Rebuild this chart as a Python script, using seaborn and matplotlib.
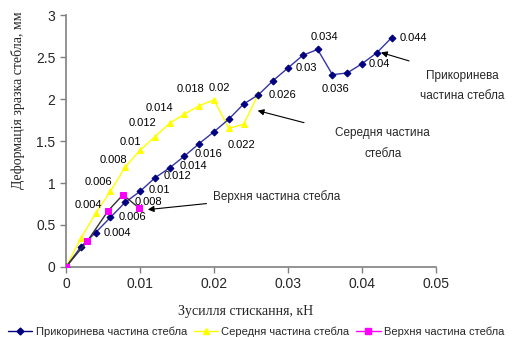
import pandas as pd
import matplotlib.pyplot as plt
import seaborn as sns
from matplotlib.lines import Line2D

# ==========================================
# 1) Data (read off the reference picture)
# ==========================================
base_x = [0, 0.002, 0.004, 0.006, 0.008, 0.01, 0.012, 0.014, 0.016, 0.018, 0.02, 0.022,
          0.024, 0.026, 0.028, 0.03, 0.032, 0.034, 0.036, 0.038, 0.04, 0.042, 0.044]
base_y = [0, 0.24, 0.41, 0.59, 0.77, 0.90, 1.06, 1.18, 1.32, 1.47, 1.61, 1.76,
          1.94, 2.05, 2.22, 2.37, 2.52, 2.59, 2.29, 2.31, 2.42, 2.55, 2.73]

mid_x = [0, 0.002, 0.004, 0.006, 0.008, 0.01, 0.012, 0.014, 0.016, 0.018, 0.02, 0.022,
         0.024, 0.026]
mid_y = [0, 0.34, 0.64, 0.90, 1.19, 1.39, 1.55, 1.71, 1.82, 1.92, 1.99, 1.65, 1.70, 2.06]

top_x = [0, 0.0029, 0.0057, 0.0077, 0.0099]
top_y = [0, 0.31, 0.67, 0.86, 0.70]

series_names = ["Прикоринева частина стебла", "Середня частина стебла", "Верхня частина стебла"]

# data labels (x values shown next to points) and their offsets in pixels
base_labels = {0.004: (8, 0, "left"), 0.006: (8, 0, "left"), 0.008: (9, 0, "left"),
               0.01: (9, 1, "left"), 0.012: (9, 2, "left"), 0.014: (10, 2, "left"),
               0.016: (10, 2, "left"), 0.026: (10, 0, "left"), 0.03: (8, 0, "left"),
               0.034: (7, 12, "center"), 0.036: (3, -14, "center"), 0.04: (7, 0, "left"),
               0.044: (8, 0, "left")}
mid_labels = {0.004: (-7, 8, "center"), 0.006: (-12, 9, "center"), 0.008: (-12, 7, "center"),
              0.01: (-10, 8, "center"), 0.012: (-12, 14, "center"), 0.014: (-10, 15, "center"),
              0.018: (-9, 17, "center"), 0.02: (5, 12, "center"), 0.022: (13, -17, "center")}

# ==========================================
# 2) Plot
# ==========================================
sns.set_style("ticks")
plt.rcParams["font.family"] = ["Liberation Sans", "DejaVu Sans"]

fig = plt.figure(figsize=(5.23, 3.37), dpi=100)
ax = fig.add_axes([66 / 523, 70 / 337, 370 / 523, 252 / 337])

df_base = pd.DataFrame({"x": base_x, "y": base_y})
df_mid = pd.DataFrame({"x": mid_x, "y": mid_y})
df_top = pd.DataFrame({"x": top_x, "y": top_y})

sns.lineplot(data=df_base, x="x", y="y", ax=ax, color="#3535a5", lw=1,
             marker="D", markersize=3.5, markerfacecolor="#000080", markeredgecolor="#000080",
             sort=False, zorder=3)
sns.lineplot(data=df_mid, x="x", y="y", ax=ax, color="#ffff00", lw=1,
             marker="^", markersize=5, markerfacecolor="#ffff00", markeredgecolor="#ffff00",
             sort=False, zorder=2)
sns.lineplot(data=df_top, x="x", y="y", ax=ax, color="#303030", lw=1,
             marker="s", markersize=4.5, markerfacecolor="#ff00ff", markeredgecolor="#ff00ff",
             sort=False, zorder=4)

px = 72 / 100
for xs, ys, labels in [(base_x, base_y, base_labels), (mid_x, mid_y, mid_labels)]:
    for xv, yv in zip(xs, ys):
        if xv in labels:
            dx, dy, ha = labels[xv]
            ax.annotate(f"{xv:g}", (xv, yv), xytext=(dx * px, dy * px),
                        textcoords="offset points", ha=ha, va="center",
                        fontsize=8, color="black", zorder=5)

arrow = dict(arrowstyle="-|>", color="black", lw=0.8, mutation_scale=9)
ax.annotate("Верхня частина стебла", xy=(0.01068, 0.68), xytext=(0.0198, 0.84),
            ha="left", va="center", fontsize=8.5, arrowprops=arrow,
            annotation_clip=False)
ax.annotate("", xy=(0.02554, 1.87), xytext=(0.03253, 1.71), arrowprops=arrow)
ax.text(0.0428, 1.47, "Середня частина\nстебла", ha="center", va="center",
        fontsize=8.5, linespacing=1.9)
ax.annotate("", xy=(0.0422, 2.563), xytext=(0.04672, 2.444), arrowprops=arrow,
            annotation_clip=False)
ax.text(0.0535, 2.15, "Прикоринева\nчастина стебла", ha="center", va="center",
        fontsize=8.5, linespacing=1.9, clip_on=False)

ax.set_xlim(0, 0.05)
ax.set_ylim(0, 3)
ax.set_xticks([0, 0.01, 0.02, 0.03, 0.04, 0.05])
ax.set_xticklabels(["0", "0.01", "0.02", "0.03", "0.04", "0.05"])
ax.set_yticks([0, 0.5, 1, 1.5, 2, 2.5, 3])
ax.set_yticklabels(["0", "0.5", "1", "1.5", "2", "2.5", "3"])
ax.tick_params(labelsize=10, color="#808080", length=4, width=1)
for s in ["top", "right"]:
    ax.spines[s].set_visible(False)
for s in ["left", "bottom"]:
    ax.spines[s].set_color("#808080")
    ax.spines[s].set_linewidth(1.2)
ax.set_xlabel("")
ax.set_ylabel("")

fig.text(246 / 523, 1 - 312 / 337, "Зусилля стискання, кН", ha="center", va="center",
         fontsize=10, family="Liberation Serif")
fig.text(18 / 523, 1 - 100 / 337, "Деформація зразка стебла, мм", ha="center", va="center",
         rotation=90, fontsize=10, family="Liberation Serif")

handles = [
    Line2D([], [], color="#000080", lw=1, marker="D", markersize=3.5),
    Line2D([], [], color="#ffff00", lw=1, marker="^", markersize=5),
    Line2D([], [], color="#ff00ff", lw=1, marker="s", markersize=4.5),
]
fig.legend(handles, series_names, loc="center left", bbox_to_anchor=(8 / 523, 1 - 332 / 337),
           ncol=3, frameon=False, fontsize=8, handlelength=2.2, handletextpad=0.3,
           columnspacing=0.6, borderpad=0, borderaxespad=0)

fig.savefig("out.png", dpi=100)
